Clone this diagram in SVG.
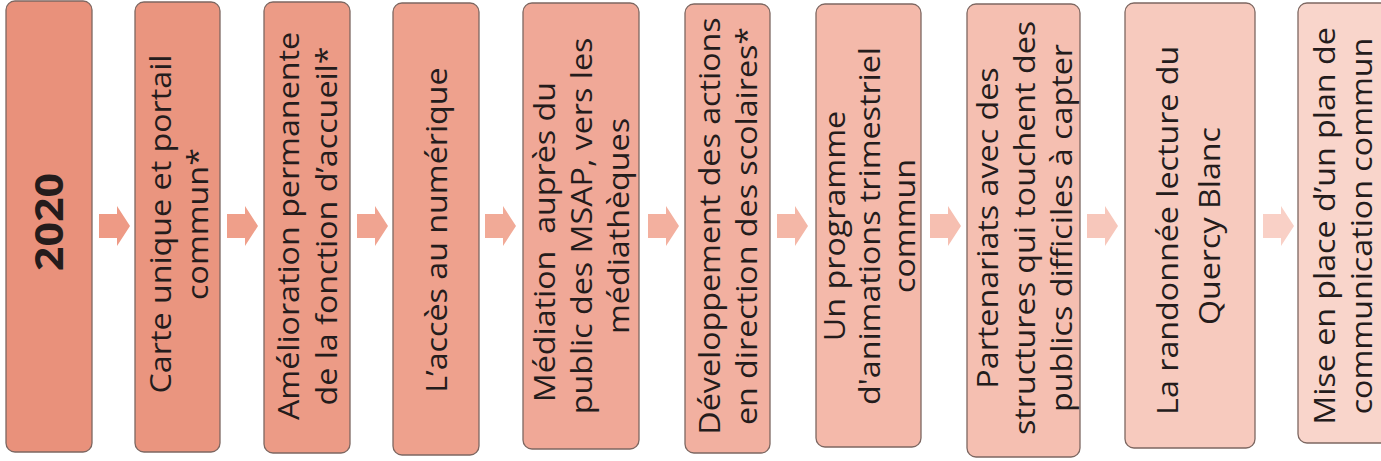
<svg xmlns="http://www.w3.org/2000/svg" width="1381" height="461" viewBox="0 0 1381 461">
<style>
.box{stroke:#7d6761;stroke-width:1.3}
.t{font-family:"Open Sans","Liberation Sans",sans-serif;font-size:30px;fill:#241c1c;text-anchor:middle}
.b{font-weight:bold;font-size:40px}
.arr{stroke:none}
</style>
<rect width="1381" height="461" fill="#ffffff"/>
<g id="connectors">
<path class="arr" fill="#ee9a85" d="M99,214H117V206L130,226L117,246V238H99Z"/>
<path class="arr" fill="#ef9f8a" d="M227,214H245V206L258,226L245,246V238H227Z"/>
<path class="arr" fill="#f0a491" d="M357,214H375V206L388,226L375,246V238H357Z"/>
<path class="arr" fill="#f1aa97" d="M485,214H503V206L516,226L503,246V238H485Z"/>
<path class="arr" fill="#f3b09f" d="M648,214H666V206L679,226L666,246V238H648Z"/>
<path class="arr" fill="#f4b7a7" d="M777,214H795V206L808,226L795,246V238H777Z"/>
<path class="arr" fill="#f6bfb1" d="M930,214H948V206L961,226L948,246V238H930Z"/>
<path class="arr" fill="#f7c7bb" d="M1087,214H1105V206L1118,226L1105,246V238H1087Z"/>
<path class="arr" fill="#f9d0c6" d="M1263,214H1281V206L1294,226L1281,246V238H1263Z"/>
</g>
<g id="n1">
<rect class="box" x="6" y="1" width="86" height="451" rx="9" fill="#e9917b"/>
<g transform="translate(49,222) rotate(-90) scale(1.075,1)"><text class="t b" x="0" y="14">2020</text></g>
</g>
<g id="n2">
<rect class="box" x="135" y="2" width="85" height="450" rx="9" fill="#ea957f"/>
<g transform="translate(177.5,224) rotate(-90) scale(1.075,1)"><text class="t"><tspan x="0" y="-7">Carte unique et portail</tspan><tspan x="0" y="30">commun*</tspan></text></g>
</g>
<g id="n3">
<rect class="box" x="264" y="2" width="86" height="451" rx="9" fill="#ec9b86"/>
<g transform="translate(307,226) rotate(-90) scale(1.075,1)"><text class="t"><tspan x="0" y="-8">Amélioration permanente</tspan><tspan x="0" y="30">de la fonction d’accueil*</tspan></text></g>
</g>
<g id="n4">
<rect class="box" x="393" y="3" width="86" height="452" rx="9" fill="#eea18d"/>
<g transform="translate(436,230) rotate(-90) scale(1.075,1)"><text class="t" x="0" y="11">L’accès au numérique</text></g>
</g>
<g id="n5">
<rect class="box" x="523" y="3" width="116" height="446" rx="9" fill="#f0a897"/>
<g transform="translate(581,226) rotate(-90) scale(1.075,1)"><text class="t" xml:space="preserve"><tspan x="-15" y="-26">Médiation  auprès du</tspan><tspan x="0" y="11">public des MSAP, vers les</tspan><tspan x="0" y="48">médiathèques</tspan></text></g>
</g>
<g id="n6">
<rect class="box" x="685" y="4" width="85" height="449" rx="9" fill="#f2b0a0"/>
<g transform="translate(727.5,226) rotate(-90) scale(1.075,1)"><text class="t"><tspan x="0" y="-8">Développement des actions</tspan><tspan x="0" y="29">en direction des scolaires*</tspan></text></g>
</g>
<g id="n7">
<rect class="box" x="816" y="4" width="105" height="443" rx="9" fill="#f4b9aa"/>
<g transform="translate(868,226) rotate(-90) scale(1.075,1)"><text class="t"><tspan x="0" y="-23">Un programme</tspan><tspan x="0" y="12">d'animations trimestriel</tspan><tspan x="0" y="47">commun</tspan></text></g>
</g>
<g id="n8">
<rect class="box" x="967" y="4" width="113" height="453" rx="9" fill="#f5bfb1"/>
<g transform="translate(1023,228) rotate(-90) scale(1.075,1)"><text class="t"><tspan x="0" y="-25">Partenariats avec des</tspan><tspan x="0" y="12">structures qui touchent des</tspan><tspan x="0" y="49">publics difficiles à capter</tspan></text></g>
</g>
<g id="n9">
<rect class="box" x="1125" y="3" width="130" height="445" rx="9" fill="#f7cabe"/>
<g transform="translate(1190,226) rotate(-90) scale(1.075,1)"><text class="t"><tspan x="-4" y="-12">La randonnée lecture du</tspan><tspan x="0" y="30">Quercy Blanc</tspan></text></g>
</g>
<g id="n10">
<rect class="box" x="1298" y="3" width="100" height="440" rx="9" fill="#f9d5cb"/>
<g transform="translate(1343,226) rotate(-90) scale(1.075,1)"><text class="t"><tspan x="0" y="-8">Mise en place d’un plan de</tspan><tspan x="0" y="29">communication commun</tspan></text></g>
</g>
</svg>
